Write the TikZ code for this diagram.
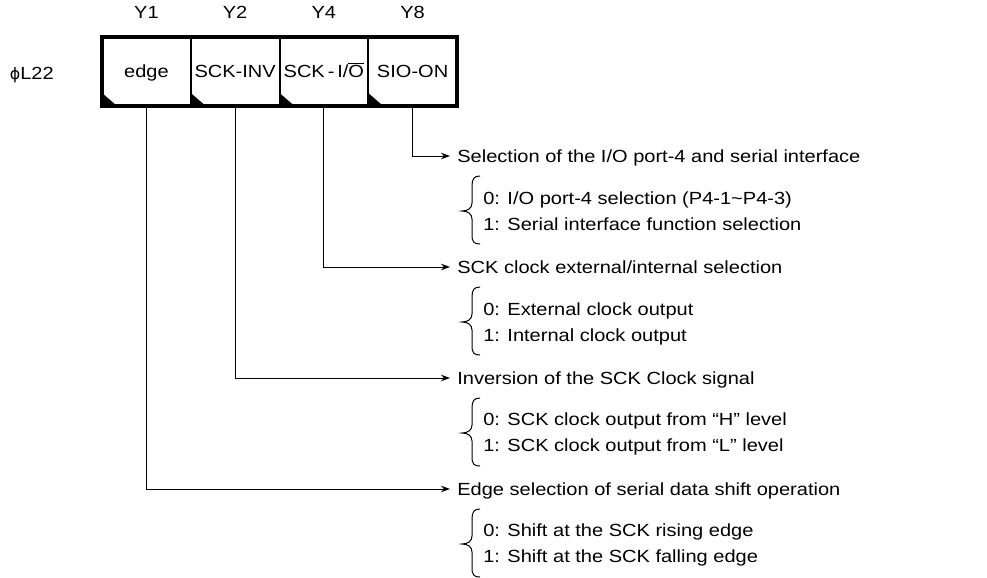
\documentclass[tikz,border=0pt]{standalone}
\usepackage{fontspec}
\setmainfont{Liberation Sans}[FakeStretch=1.14]
\newfontfamily\phifont{DejaVu Sans}
\usetikzlibrary{arrows.meta, positioning}

\begin{document}
\begin{tikzpicture}[x=0.02cm, y=-0.02cm,
    txt/.style={font=\fontsize{10}{12}\selectfont, inner sep=0pt, text height=0.72em, text depth=0pt},
    opt/.style={txt, anchor=west},
    cell/.style={txt, draw, line width=0.4mm, minimum width=1.775cm, minimum height=1.38cm, outer sep=0pt},
    conn/.style={line width=0.2mm, -{Stealth[length=1.8mm, width=1.3mm]}, shorten >=0.14cm}]
    \useasboundingbox (0,0) rectangle (987,578);

    % register bits
    \node[cell] (edge) at (146.4,71.5) {edge};
    \node[cell, right=0pt of edge] (inv) {SCK-INV};
    \node[cell, right=0pt of inv] (sck) {SCK\,-\,I/$\overline{\mbox{O}}$};
    \node[cell, right=0pt of sck] (sio) {SIO-ON};
    \foreach \c in {edge, inv, sck, sio}
        \fill (\c.south west) -- ++(0,-13) -- ++(15,13) -- cycle;
    \draw[line width=0.8mm] (edge.north west) rectangle (sio.south east);

    \node[txt, above=0.37cm of edge] (y1) {Y1};
    \node[txt, above=0.37cm of inv] (y2) {Y2};
    \node[txt, above=0.37cm of sck] (y4) {Y4};
    \node[txt, above=0.37cm of sio] (y8) {Y8};
    \node[txt, left=0.96cm of edge, yshift=-0.03cm] (reg) {{\phifont\fontsize{9}{12}\selectfont ϕ}L22};

    % descriptions
    \node[opt] (h8) at (457,156) {Selection of the I/O port-4 and serial interface};
    \node[opt] (o80) at (483,198) {0: I/O port-4 selection (P4-1\textasciitilde P4-3)};
    \node[opt] (o81) at (483,224) {1: Serial interface function selection};
    \node[opt] (h4) at (457,267) {SCK clock external/internal selection};
    \node[opt] (o40) at (483,309) {0: External clock output};
    \node[opt] (o41) at (483,335) {1: Internal clock output};
    \node[opt] (h2) at (457,378) {Inversion of the SCK Clock signal};
    \node[opt] (o20) at (483,419) {0: SCK clock output from “H” level};
    \node[opt] (o21) at (483,445) {1: SCK clock output from “L” level};
    \node[opt] (h1) at (457,489) {Edge selection of serial data shift operation};
    \node[opt] (o10) at (483,530) {0: Shift at the SCK rising edge};
    \node[opt] (o11) at (483,556) {1: Shift at the SCK falling edge};

    \draw[conn] (sio.south) |- (h8.west);
    \draw[conn] (sck.south) |- (h4.west);
    \draw[conn] (inv.south) |- (h2.west);
    \draw[conn] (edge.south) |- (h1.west);

    \foreach \h in {156, 267, 378, 489}
        \draw[line width=0.2mm] (480,\h+20) .. controls (474,\h+20) and (472,\h+23) .. (472,\h+30)
            -- (472,\h+47) .. controls (472,\h+52) and (468,\h+55) .. (462,\h+55)
            .. controls (468,\h+55) and (472,\h+58) .. (472,\h+63)
            -- (472,\h+79) .. controls (472,\h+86) and (474,\h+88) .. (480,\h+88);
\end{tikzpicture}
\end{document}
